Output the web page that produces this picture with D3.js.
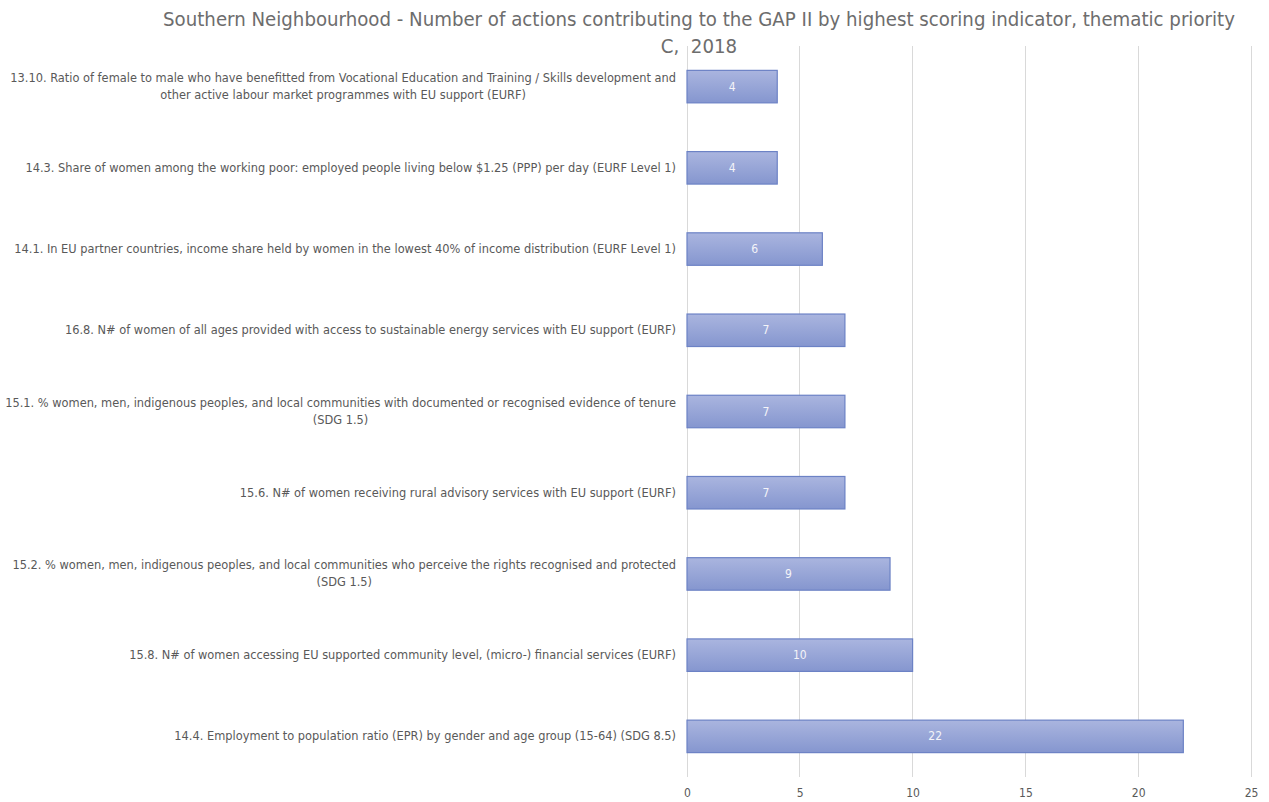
<!DOCTYPE html>
<html>
<head>
<meta charset="utf-8">
<script src="https://cdn.jsdelivr.net/npm/d3@7"></script>
<style>
  html, body { margin: 0; padding: 0; background: #fff; }
  svg { display: block; }
</style>
</head>
<body>
<svg id="chart" width="1269" height="802"></svg>
<script>
// Indicator labels (top to bottom), each as its wrapped lines
const categories = [
  ["13.10. Ratio of female to male who have benefitted from Vocational Education and Training / Skills development and",
   "other active labour market programmes with EU support (EURF)"],
  ["14.3. Share of women among the working poor: employed people living below $1.25 (PPP) per day (EURF Level 1)"],
  ["14.1. In EU partner countries, income share held by women in the lowest 40% of income distribution (EURF Level 1)"],
  ["16.8. N# of women of all ages provided with access to sustainable energy services with EU support (EURF)"],
  ["15.1. % women, men, indigenous peoples, and local communities with documented or recognised evidence of tenure",
   "(SDG 1.5)"],
  ["15.6. N# of women receiving rural advisory services with EU support (EURF)"],
  ["15.2. % women, men, indigenous peoples, and local communities who perceive the rights recognised and protected",
   "(SDG 1.5)"],
  ["15.8. N# of women accessing EU supported community level, (micro-) financial services (EURF)"],
  ["14.4. Employment to population ratio (EPR) by gender and age group (15-64) (SDG 8.5)"]
];
const values = [4, 4, 6, 7, 7, 7, 9, 10, 22];
const xTicks = [0, 5, 10, 15, 20, 25];
const titleLines = [
  "Southern Neighbourhood - Number of actions contributing to the GAP II by highest scoring indicator, thematic priority",
  "C,  2018"
];

const svg = d3.select("#chart");
const labelFont = "'Liberation Sans Narrow', 'Arial Narrow', 'DejaVu Sans Condensed', sans-serif";
const titleFont = "'Liberation Sans Narrow', 'Arial Narrow', 'DejaVu Sans Condensed', sans-serif";

const plot = { left: 687, right: 1251, top: 46, bottom: 777 };
const ids = categories.map((c, i) => i);

const x = d3.scaleLinear().domain([0, 25]).range([plot.left, plot.right]);
const y = d3.scaleBand().domain(ids).range([plot.top, plot.bottom]).paddingInner(0.6).paddingOuter(0.3);

// Bar gradient
const defs = svg.append("defs");
const grad = defs.append("linearGradient").attr("id", "barGrad")
  .attr("x1", 0).attr("y1", 0).attr("x2", 0).attr("y2", 1);
grad.append("stop").attr("offset", "0%").attr("stop-color", "#aab5df");
grad.append("stop").attr("offset", "100%").attr("stop-color", "#8596cf");

// Title
const title = svg.append("g").attr("class", "title");
title.selectAll("text").data(titleLines).join("text")
  .attr("x", 699)
  .attr("y", (d, i) => 26 + i * 27)
  .attr("text-anchor", "middle")
  .attr("fill", "#6d6d6d")
  .style("font-family", titleFont)
  .style("font-size", "19px")
  .style("white-space", "pre")
  .text(d => d);
// fit title line to its width
{
  const t = title.select("text").node();
  const w = t.getComputedTextLength();
  const fs = 19 * 1073 / w;
  title.selectAll("text").style("font-size", fs.toFixed(2) + "px");
}

// Gridlines and axis
const xAxis = d3.axisBottom(x).tickValues(xTicks).tickSize(0).tickPadding(0);
const gAxis = svg.append("g").attr("transform", `translate(0,${plot.bottom})`).call(xAxis);
gAxis.select(".domain").remove();
gAxis.selectAll("text")
  .attr("y", 20)
  .attr("dy", 0)
  .attr("fill", "#595959")
  .style("font-family", labelFont)
  .style("font-size", "12px");

svg.append("g").selectAll("line").data(xTicks).join("line")
  .attr("x1", d => x(d)).attr("x2", d => x(d))
  .attr("y1", plot.top).attr("y2", plot.bottom)
  .attr("stroke", "#d9d9d9").attr("stroke-width", 1)
  .attr("shape-rendering", "crispEdges");

// Bars
svg.append("g").selectAll("rect").data(ids).join("rect")
  .attr("x", x(0))
  .attr("y", i => y(i))
  .attr("width", i => x(values[i]) - x(0))
  .attr("height", y.bandwidth())
  .attr("fill", "url(#barGrad)")
  .attr("stroke", "#6c82c5")
  .attr("stroke-width", 1.2);

// Value labels
svg.append("g").selectAll("text").data(ids).join("text")
  .attr("x", i => (x(0) + x(values[i])) / 2)
  .attr("y", i => y(i) + y.bandwidth() / 2 + 4)
  .attr("text-anchor", "middle")
  .attr("fill", "#f4f4f8")
  .style("font-family", labelFont)
  .style("font-size", "12px")
  .text(i => values[i]);

// Category labels: wrapped lines centred on each other, block right-aligned to the axis
const labelRight = 676;
const gLab = svg.append("g");
const labelSize = 12;
const lineH = 17;
const groups = gLab.selectAll("g").data(ids).join("g");
groups.each(function(i) {
  const g = d3.select(this);
  const lines = categories[i];
  const texts = g.selectAll("text").data(lines).join("text")
    .attr("fill", "#595959")
    .style("font-family", labelFont)
    .style("font-size", labelSize + "px")
    .text(d => d);
});
// scale label font so the widest line matches the available span
{
  const ref = groups.filter(i => i === 0).select("text").node();
  const w = ref.getComputedTextLength();
  const fs = labelSize * (labelRight - 10) / w;
  groups.selectAll("text").style("font-size", fs.toFixed(2) + "px");
}
groups.each(function(i) {
  const g = d3.select(this);
  const texts = g.selectAll("text");
  let maxW = 0;
  texts.each(function() { maxW = Math.max(maxW, this.getComputedTextLength()); });
  const cx = labelRight - maxW / 2;
  const n = categories[i].length;
  const cy = y(i) + y.bandwidth() / 2;
  texts.attr("x", cx)
    .attr("text-anchor", "middle")
    .attr("y", (d, k) => cy + (k - (n - 1) / 2) * lineH + 4);
});
</script>
</body>
</html>
